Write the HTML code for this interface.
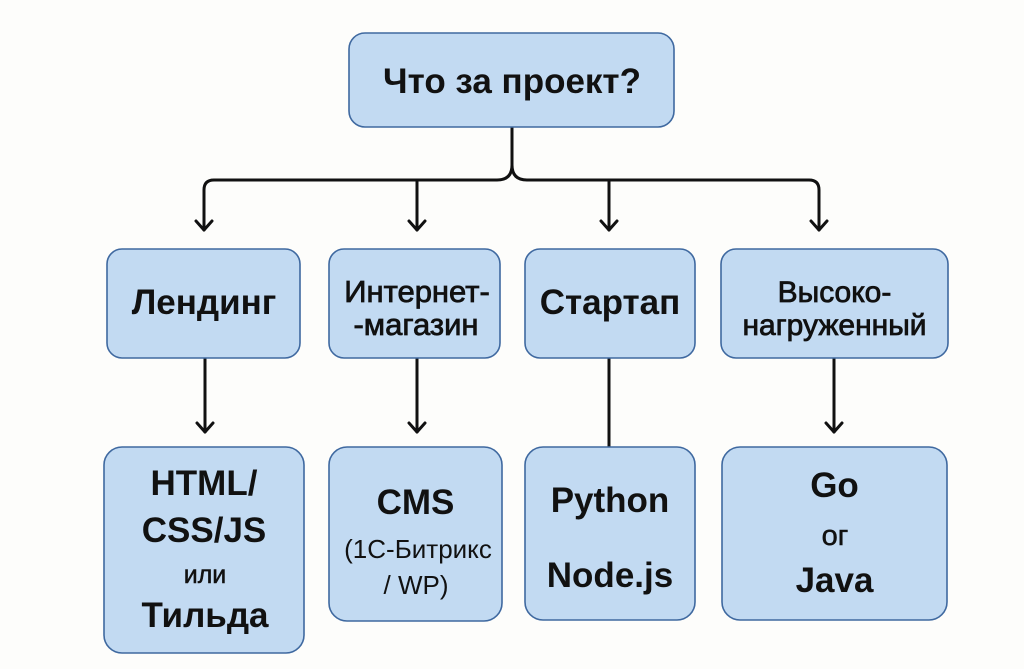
<!DOCTYPE html>
<html>
<head>
<meta charset="utf-8">
<style>
  html, body { margin: 0; padding: 0; background: #fdfdfb; }
  body { width: 1024px; height: 669px; overflow: hidden; }
  svg { display: block; }
  text { font-family: "Liberation Sans", "DejaVu Sans", sans-serif; fill: #111; text-anchor: middle; }
  .b { font-weight: bold; }
  .m { stroke: #111; stroke-width: 0.8px; }
  .box { fill: #c2daf2; stroke: #3f69a0; stroke-width: 1.6; }
  .ln { fill: none; stroke: #111; stroke-width: 3; stroke-linecap: round; stroke-linejoin: round; }
</style>
</head>
<body>
<svg width="1024" height="669" viewBox="0 0 1024 669" xmlns="http://www.w3.org/2000/svg">
  <!-- connectors -->
  <path class="ln" d="M512 127 V165 Q512 180 497 180 H214 Q204 180 204 190 V230"/>
  <path class="ln" d="M512 165 Q512 180 527 180 H809 Q819 180 819 190 V230"/>
  <path class="ln" d="M417 180 V230"/>
  <path class="ln" d="M609 180 V230"/>
  <polyline class="ln" points="196,221 204,230 212,221"/>
  <polyline class="ln" points="409,221 417,230 425,221"/>
  <polyline class="ln" points="601,221 609,230 617,221"/>
  <polyline class="ln" points="811,221 819,230 827,221"/>

  <path class="ln" d="M205 358 V432"/>
  <polyline class="ln" points="197,423 205,432 213,423"/>
  <path class="ln" d="M417 358 V432"/>
  <polyline class="ln" points="409,423 417,432 425,423"/>
  <path class="ln" d="M609 358 V447"/>
  <path class="ln" d="M834 358 V432"/>
  <polyline class="ln" points="826,423 834,432 842,423"/>

  <!-- top box -->
  <rect class="box" x="349" y="33" width="325" height="94" rx="16"/>
  <text class="b" x="512" y="93" font-size="35">Что за проект?</text>

  <!-- row 2 -->
  <rect class="box" x="107" y="249" width="193" height="109" rx="15"/>
  <text class="b" x="204" y="314" font-size="35">Лендинг</text>

  <rect class="box" x="329" y="249" width="171" height="109" rx="15"/>
  <text class="m" x="417" y="302" font-size="31">Интернет-</text>
  <text class="m" x="416" y="335" font-size="31">-магазин</text>

  <rect class="box" x="525" y="249" width="170" height="109" rx="15"/>
  <text class="b" x="610" y="314" font-size="35">Стартап</text>

  <rect class="box" x="721" y="249" width="227" height="109" rx="15"/>
  <text class="m" x="834.5" y="302" font-size="30">Высоко-</text>
  <text class="m" x="834.5" y="335" font-size="30">нагруженный</text>

  <!-- row 3 -->
  <rect class="box" x="104" y="447" width="200" height="206" rx="18"/>
  <text class="b" x="204" y="495" font-size="35">HTML/</text>
  <text class="b" x="204" y="542" font-size="35">CSS/JS</text>
  <text class="m" x="205" y="583" font-size="25" style="stroke-width:0.5px">или</text>
  <text class="b" x="205" y="627" font-size="35">Тильда</text>

  <rect class="box" x="329" y="447" width="173" height="174" rx="18"/>
  <text class="b" x="415.5" y="514" font-size="35">CMS</text>
  <text x="418" y="558" font-size="26">(1С-Битрикс</text>
  <text x="416" y="594" font-size="26">/ WP)</text>

  <rect class="box" x="525" y="447" width="170" height="173" rx="18"/>
  <text class="b" x="610" y="512" font-size="35">Python</text>
  <text class="b" x="610" y="587" font-size="35">Node.js</text>

  <rect class="box" x="722" y="447" width="225" height="173" rx="18"/>
  <text class="b" x="834.5" y="497" font-size="35">Go</text>
  <text class="m" x="835" y="545" font-size="29" style="stroke-width:0.5px">ог</text>
  <text class="b" x="834.5" y="592" font-size="35">Java</text>
</svg>
</body>
</html>
